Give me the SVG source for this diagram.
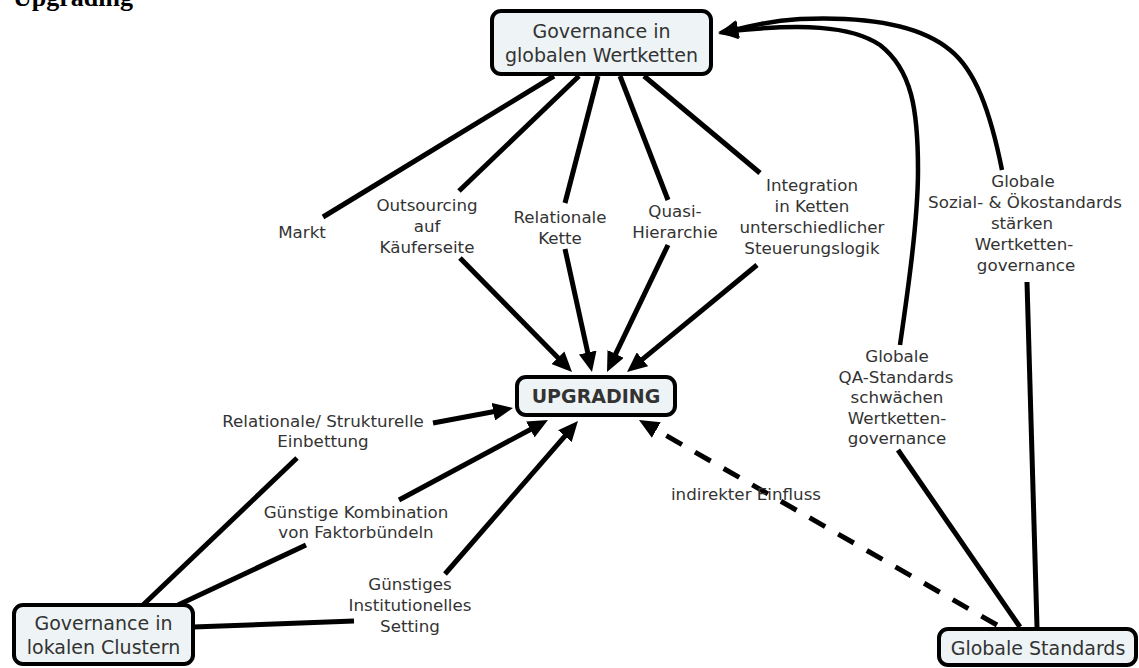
<svg xmlns="http://www.w3.org/2000/svg" width="1139" height="668" viewBox="0 0 1139 668">
<style>
.node rect{fill:#eef3f5;stroke:#000;stroke-width:4}
.nt{font-family:"DejaVu Sans",Verdana,sans-serif;font-size:19px;fill:#333;text-anchor:middle}
.lb{font-family:"DejaVu Sans",Verdana,sans-serif;font-size:16.7px;fill:#333;text-anchor:middle}
.c{stroke:#000;stroke-width:5;fill:none}
.cv{stroke:#000;stroke-width:4.5;fill:none}
.d{stroke:#000;stroke-width:5;fill:none;stroke-dasharray:18 15}
.a{marker-end:url(#ah)}
</style>
<defs>
<marker id="ah" viewBox="0 0 20 18" refX="8" refY="9" markerWidth="20" markerHeight="18" markerUnits="userSpaceOnUse" orient="auto">
<path d="M0,0 L20,9 L0,18 z" fill="#000"/>
</marker>
</defs>
<rect width="1139" height="668" fill="#fff"/>
<text x="13" y="6" font-family="Liberation Serif,serif" font-weight="bold" font-size="26" fill="#000">Upgrading</text>
<g id="connectors">
<line class="c" x1="554" y1="76" x2="323" y2="217"/>
<line class="c" x1="579" y1="76" x2="459" y2="191"/>
<line class="c" x1="598" y1="76" x2="565" y2="203"/>
<line class="c" x1="620" y1="76" x2="668" y2="200"/>
<line class="c" x1="644" y1="76" x2="760" y2="173"/>
<line class="c a" x1="460" y1="258" x2="563.6" y2="363.4"/>
<line class="c a" x1="565" y1="249" x2="589.4" y2="360.3"/>
<line class="c a" x1="668" y1="245" x2="612.2" y2="361.2"/>
<line class="c a" x1="757" y1="265" x2="636.3" y2="364.4"/>
<line class="c a" x1="433" y1="423" x2="501.2" y2="410.2"/>
<line class="c a" x1="399" y1="500" x2="537.4" y2="425.7"/>
<line class="c a" x1="445" y1="574" x2="570.1" y2="430.1"/>
<line class="d a" x1="997" y1="625" x2="649.4" y2="426"/>
<line class="c" x1="143" y1="605" x2="297" y2="458"/>
<line class="c" x1="178" y1="605" x2="306" y2="545"/>
<line class="c" x1="193" y1="627" x2="354" y2="621"/>
<line class="c" x1="1020" y1="627" x2="898" y2="450"/>
<line class="c" x1="1037" y1="627" x2="1027" y2="282"/>
<path class="cv a" d="M900,345 C908,290 918,220 918,170 C918,110 912,70 880,45 C850,25 800,24 730,31"/>
<path class="cv a" d="M1002,170 C990,110 975,70 950,50 C920,25 870,16 800,19 C770,21 750,26 730,31"/>
</g>
<g id="labels">
<text class="lb" x="302" y="238">Markt</text>
<text class="lb" x="427" y="211">Outsourcing</text>
<text class="lb" x="427" y="232">auf</text>
<text class="lb" x="427" y="253">Käuferseite</text>
<text class="lb" x="560" y="223">Relationale</text>
<text class="lb" x="560" y="244">Kette</text>
<text class="lb" x="675" y="217">Quasi-</text>
<text class="lb" x="675" y="238">Hierarchie</text>
<text class="lb" x="812" y="191">Integration</text>
<text class="lb" x="812" y="212">in Ketten</text>
<text class="lb" x="812" y="233">unterschiedlicher</text>
<text class="lb" x="812" y="254">Steuerungslogik</text>
<text class="lb" x="1023" y="187">Globale</text>
<text class="lb" x="1025" y="208">Sozial- &amp; Ökostandards</text>
<text class="lb" x="1022" y="229">stärken</text>
<text class="lb" x="1024" y="250">Wertketten-</text>
<text class="lb" x="1026" y="271">governance</text>
<text class="lb" x="897" y="362">Globale</text>
<text class="lb" x="896" y="383">QA-Standards</text>
<text class="lb" x="897" y="403">schwächen</text>
<text class="lb" x="897" y="424">Wertketten-</text>
<text class="lb" x="897" y="444">governance</text>
<text class="lb" x="323" y="427">Relationale/ Strukturelle</text>
<text class="lb" x="323" y="447">Einbettung</text>
<text class="lb" x="356" y="518">Günstige Kombination</text>
<text class="lb" x="356" y="538">von Faktorbündeln</text>
<text class="lb" x="410" y="590">Günstiges</text>
<text class="lb" x="410" y="611">Institutionelles</text>
<text class="lb" x="410" y="632">Setting</text>
<text class="lb" x="746" y="500">indirekter Einfluss</text>
</g>
<g id="node-governance-global" class="node">
<rect x="492" y="11" width="219" height="63" rx="9"/>
<text class="nt" x="601.5" y="38">Governance in</text>
<text class="nt" x="601.5" y="62">globalen Wertketten</text>
</g>
<g id="node-upgrading" class="node">
<rect x="517" y="377" width="158" height="38" rx="9"/>
<text class="nt" x="596" y="403" font-weight="bold" fill="#111" font-size="20">UPGRADING</text>
</g>
<g id="node-governance-lokal" class="node">
<rect x="14" y="605" width="179" height="59" rx="9"/>
<text class="nt" x="103.5" y="630">Governance in</text>
<text class="nt" x="103.5" y="654">lokalen Clustern</text>
</g>
<g id="node-globale-standards" class="node">
<rect x="939" y="629" width="197" height="36" rx="9"/>
<text class="nt" x="1038" y="655">Globale Standards</text>
</g>
</svg>
